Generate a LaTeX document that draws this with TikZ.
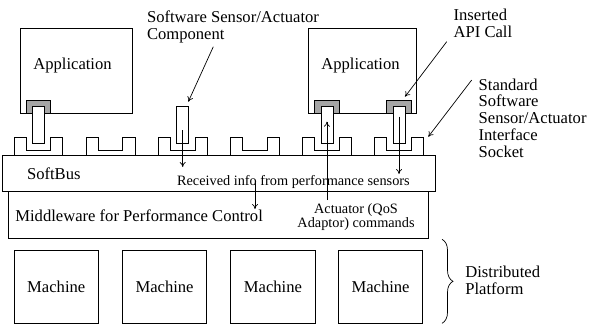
\documentclass[tikz,border=0pt]{standalone}
\usepackage{fontspec}
\setmainfont{Liberation Serif}
\usetikzlibrary{arrows.meta,decorations.pathreplacing}
\definecolor{capgray}{RGB}{165,165,165}
\begin{document}
\begin{tikzpicture}[x=1bp,y=-1bp,line width=0.7bp,
  big/.style={font=\fontsize{16.6bp}{16.7bp}\selectfont,inner sep=0pt},
  small/.style={font=\fontsize{14.3bp}{12.7bp}\selectfont,inner sep=0pt},
  blk/.style={draw,rectangle,inner sep=0pt,outer sep=0pt,anchor=north west},
  capbox/.style={draw,fill=capgray,rectangle,inner sep=0pt,outer sep=0pt,minimum width=24.6bp,minimum height=12.3bp,anchor=north},
  stick/.style={draw,fill=white,rectangle,inner sep=0pt,outer sep=0pt,minimum width=12bp,minimum height=36.6bp,anchor=north},
  arr/.style={-{To[length=5bp,width=6bp]}}]
\useasboundingbox (0,0) rectangle (592,324);
% applications
\node[blk,minimum width=111.3bp,minimum height=85bp] (app1) at (20.7,28) {};
\node[big] (app1t) at (72.5,66) {Application};
\node[blk,minimum width=108.4bp,minimum height=85bp] (app2) at (308.3,28) {};
\node[big] (app2t) at (360.5,66) {Application};
% caps (inserted API calls)
\node[capbox] (cap1) at (38.5,100.7) {};
\node[capbox] (cap2) at (326.9,100.7) {};
\node[capbox] (cap3) at (399,100.7) {};
% sockets
\foreach \c in {38.5,110.6,182.7,254.8,326.9,399}{
  \draw (\c-24.3,155.5) -- (\c-24.3,137.3) -- (\c-12.2,137.3) -- (\c-12.2,150)
     -- (\c+12.2,150) -- (\c+12.2,137.3) -- (\c+24.3,137.3) -- (\c+24.3,155.5);
}
% sticks (sensor/actuator components)
\node[stick] (st1) at (38.5,106.7) {};
\node[stick] (st2) at (182.7,106.7) {};
\node[stick] (st3) at (326.9,106.7) {};
\node[stick] (st4) at (399,106.7) {};
% softbus and middleware
\node[blk,minimum width=432.3bp,minimum height=35.5bp] (bus) at (2.7,155.5) {};
\node[big,anchor=base west] (bust) at (26.7,179) {SoftBus};
\node[blk,minimum width=420bp,minimum height=47bp] (mw) at (8.3,191) {};
\node[big,anchor=base west] (mwt) at (15,221) {Middleware for Performance Control};
\node[small,anchor=base west] (recv) at (176.7,185) {Received info from performance sensors};
\node[small,align=center] (act) at (356,217.5) {Actuator (QoS\\Adaptor) commands};
% machines
\foreach \i/\x in {1/14,2/122.3,3/230.7,4/338.3}{
  \node[blk,minimum width=84.5bp,minimum height=72.6bp] (m\i) at (\x,250.7) {};
  \node[big] (m\i t) at (\x+42.25,287) {Machine};
}
% brace
\draw[decorate,decoration={brace,amplitude=11bp}] (442,239.3) -- (442,323.3);
\node[big,align=left,anchor=west] (dist) at (465,280) {Distributed\\Platform};
% labels
\node[big,align=left,anchor=west] (comp) at (146.7,27) {Software Sensor/Actuator\\Component};
\node[big,align=left,anchor=west] (ins) at (453.3,23) {Inserted\\API Call};
\node[big,align=left,anchor=west] (std) at (478.3,118) {Standard\\Software\\Sensor/Actuator\\Interface\\Socket};
% label arrows
\coordinate (compA) at (213.3,46.7);
\coordinate (insA) at (446.7,41.7);
\coordinate (stdA) at (471.7,80);
\draw[arr] (compA) -- (188.3,101.7);
\draw[arr] (insA) -- (405,96.7);
\draw[arr] (stdA) -- (428.3,136.7);
% data arrows
\draw[arr] (182.7,130) -- (182.7,167);
\draw[arr] (326.9,200) -- (326.9,121.7);
\draw[arr] (399,116.7) -- (399,174);
\draw[arr] (255,181) -- (255,209);
\end{tikzpicture}
\end{document}
